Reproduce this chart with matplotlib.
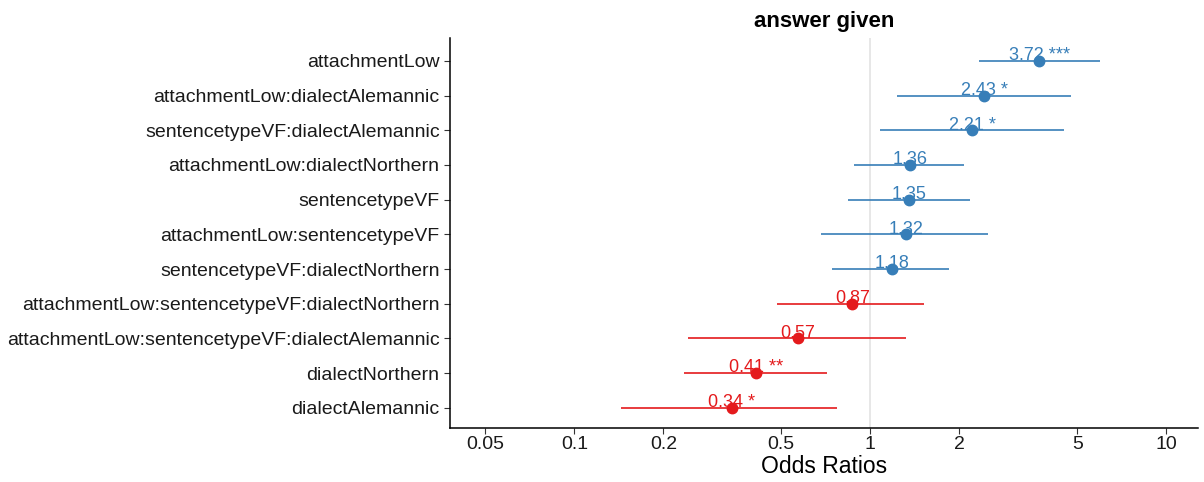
import matplotlib.pyplot as plt
import matplotlib.ticker as mticker
import numpy as np

plt.rcParams['font.family'] = ['Liberation Sans', 'DejaVu Sans']

# model terms, top to bottom
terms = ["attachmentLow",
         "attachmentLow:dialectAlemannic",
         "sentencetypeVF:dialectAlemannic",
         "attachmentLow:dialectNorthern",
         "sentencetypeVF",
         "attachmentLow:sentencetypeVF",
         "sentencetypeVF:dialectNorthern",
         "attachmentLow:sentencetypeVF:dialectNorthern",
         "attachmentLow:sentencetypeVF:dialectAlemannic",
         "dialectNorthern",
         "dialectAlemannic"]
odds = [3.72, 2.43, 2.21, 1.36, 1.35, 1.32, 1.18, 0.87, 0.57, 0.41, 0.34]
ci_low = [2.33, 1.23, 1.08, 0.88, 0.84, 0.68, 0.74, 0.485, 0.243, 0.235, 0.144]
ci_high = [5.95, 4.78, 4.52, 2.08, 2.18, 2.50, 1.85, 1.52, 1.32, 0.716, 0.774]
stars = ["***", "*", "*", "", "", "", "", "", "", "**", "*"]

x_ticks = [0.05, 0.1, 0.2, 0.5, 1, 2, 5, 10]

blue = "#377EB8"
red = "#E41A1C"

fig = plt.figure(figsize=(12.04, 4.82), dpi=100)
ax = fig.add_axes([450 / 1204, 1 - 428 / 482, 748 / 1204, 390 / 482])

n = len(terms)
ypos = np.arange(n, 0, -1)

ax.axvline(1, color="#e3e3e3", lw=1.2, zorder=0)

for y, est, lo, hi, s in zip(ypos, odds, ci_low, ci_high, stars):
    col = blue if est > 1 else red
    ax.plot([lo, hi], [y, y], color=col, lw=1.2, solid_capstyle="butt")
    ax.plot(est, y, "o", color=col, ms=7.5, mec=col)
    label = f"{est:.2f}" + (f" {s}" if s else "")
    ax.text(est, y + 0.15, label, color=col, fontsize=13,
            ha="center", va="center")

ax.set_xscale("log")
ax.set_xlim(0.038, 12.8)
ax.set_ylim(0.42, 11.66)
ax.xaxis.set_major_locator(mticker.FixedLocator(x_ticks))
ax.xaxis.set_major_formatter(mticker.FixedFormatter([f"{t:g}" for t in x_ticks]))
ax.xaxis.set_minor_locator(mticker.NullLocator())
ax.set_yticks(ypos)
ax.set_yticklabels(terms)

ax.tick_params(axis="both", labelsize=14, color="#333333", length=4, width=0.8,
               labelcolor="#1a1a1a")
ax.tick_params(axis="x", pad=2)
for side in ["top", "right"]:
    ax.spines[side].set_visible(False)
for side in ["left", "bottom"]:
    ax.spines[side].set_linewidth(1.1)

ax.set_xlabel("Odds Ratios", fontsize=16.5, labelpad=1)
ax.set_title("answer given", fontsize=16, fontweight="bold", pad=8)

fig.savefig("out.png", dpi=100)
